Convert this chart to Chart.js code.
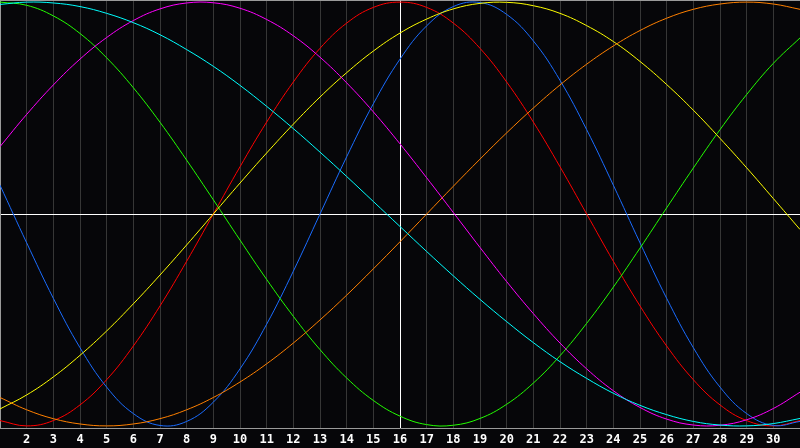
<!DOCTYPE html>
<html>
<head>
<meta charset="utf-8">
<script src="https://cdn.jsdelivr.net/npm/chart.js@4/dist/chart.umd.min.js"></script>
<style>
html,body{margin:0;padding:0;background:#060609;}
canvas{display:block;}
</style>
</head>
<body>
<canvas id="c" width="800" height="448"></canvas>
<script>
// Day numbers (category axis)
const days = ['1','2','3','4','5','6','7','8','9','10','11','12','13','14','15','16','17','18','19','20','21','22','23','24','25','26','27','28','29','30','31'];
// Marked (highlighted) day
const markedDay = '16';

// Cycle values in percent
const red     = [-97.5,-100,-97.5,-90.1,-78.2,-62.3,-43.4,-22.3,0,22.3,43.4,62.3,78.2,90.1,97.5,100,97.5,90.1,78.2,62.3,43.4,22.3,0,-22.3,-43.4,-62.3,-78.2,-90.1,-97.5,-100,-97.5];
const blue    = [13.6,-13.6,-39.8,-63.1,-81.7,-94.2,-99.8,-97.9,-88.8,-73.1,-52.0,-27.0,0,27.0,52.0,73.1,88.8,97.9,99.8,94.2,81.7,63.1,39.8,13.6,-13.6,-39.8,-63.1,-81.7,-94.2,-99.8,-97.9];
const green   = [100.0,98.5,93.5,85.2,73.7,59.6,43.3,25.4,6.7,-12.3,-30.9,-48.3,-64.0,-77.4,-88.0,-95.4,-99.4,-99.7,-96.5,-89.8,-79.8,-66.9,-51.6,-34.5,-16.1,2.9,21.7,39.8,56.4,71.1,83.1];
const yellow  = [-92.0,-85.4,-76.9,-66.7,-55.2,-42.4,-28.8,-14.6,0,14.6,28.8,42.4,55.2,66.7,76.9,85.4,92.0,96.8,99.4,99.9,98.3,94.7,88.9,81.4,72.0,61.1,49.0,35.7,21.8,7.3,-7.3];
const magenta = [31.8,47.0,60.9,73.1,83.3,91.3,96.8,99.6,99.7,97.1,91.8,84.1,74.0,61.9,48.2,33.1,17.1,0.7,-15.8,-31.9,-47.0,-60.9,-73.1,-83.4,-91.3,-96.8,-99.6,-99.7,-97.1,-91.8,-84.1];
const cyan    = [98.9,100.0,99.6,97.9,94.7,90.3,84.6,77.6,69.7,60.7,50.8,40.3,29.2,17.7,5.9,-5.9,-17.7,-29.2,-40.3,-50.8,-60.7,-69.7,-77.6,-84.6,-90.3,-94.7,-97.9,-99.6,-100.0,-98.9,-96.5];
const orange  = [-86.6,-92.4,-96.6,-99.1,-100,-99.1,-96.6,-92.4,-86.6,-79.3,-70.7,-60.9,-50.0,-38.3,-25.9,-13.1,0,13.1,25.9,38.3,50.0,60.9,70.7,79.3,86.6,92.4,96.6,99.1,100,99.1,96.6];

const series = [
  {data: cyan,    color: '#00ffff'},
  {data: magenta, color: '#ff00ff'},
  {data: orange,  color: '#ff8000'},
  {data: yellow,  color: '#ffff00'},
  {data: green,   color: '#22ff00'},
  {data: blue,    color: '#1a6cff'},
  {data: red,     color: '#ff0000'}
];

const bgPlugin = {
  id: 'bg',
  beforeDraw(chart) {
    const ctx = chart.ctx;
    ctx.save();
    ctx.fillStyle = '#060609';
    ctx.fillRect(0, 0, chart.width, chart.height);
    ctx.restore();
  }
};

new Chart(document.getElementById('c'), {
  type: 'line',
  data: {
    labels: days,
    datasets: series.map(s => ({
      data: s.data,
      borderColor: s.color,
      borderWidth: 1,
      pointRadius: 0,
      tension: 0.4,
      fill: false
    }))
  },
  options: {
    responsive: false,
    devicePixelRatio: 1,
    animation: false,
    layout: {padding: 0},
    plugins: {legend: {display: false}, tooltip: {enabled: false}},
    scales: {
      x: {
        type: 'category',
        offset: false,
        afterFit: s => { s.height = 20; s.paddingLeft = 0; s.paddingRight = 0; },
        grid: {
          drawTicks: false,
          lineWidth: 1,
          color: ctx => {
            const lbl = days[ctx.index];
            if (lbl === markedDay) return '#ffffff';
            if (ctx.index === 0) return '#9a9a9a';
            return '#363636';
          }
        },
        border: {display: true, color: '#9a9a9a', width: 1},
        ticks: {
          color: '#ffffff',
          font: {family: 'DejaVu Sans Mono', size: 12, weight: 'bold'},
          padding: 5,
          autoSkip: false,
          maxRotation: 0,
          callback: (v, i) => (i === 0 || i === days.length - 1) ? '' : days[i]
        }
      },
      y: {
        min: -101,
        max: 101,
        afterFit: s => { s.width = 0; s.paddingTop = 0; s.paddingBottom = 0; },
        grid: {
          drawTicks: false,
          color: ctx => ctx.tick.value === 0 ? '#ffffff' : (ctx.tick.value === 101 ? '#9a9a9a' : 'rgba(0,0,0,0)')
        },
        border: {display: true, color: '#9a9a9a', width: 1},
        ticks: {display: false, stepSize: 101}
      }
    }
  },
  plugins: [bgPlugin]
});
</script>
</body>
</html>
